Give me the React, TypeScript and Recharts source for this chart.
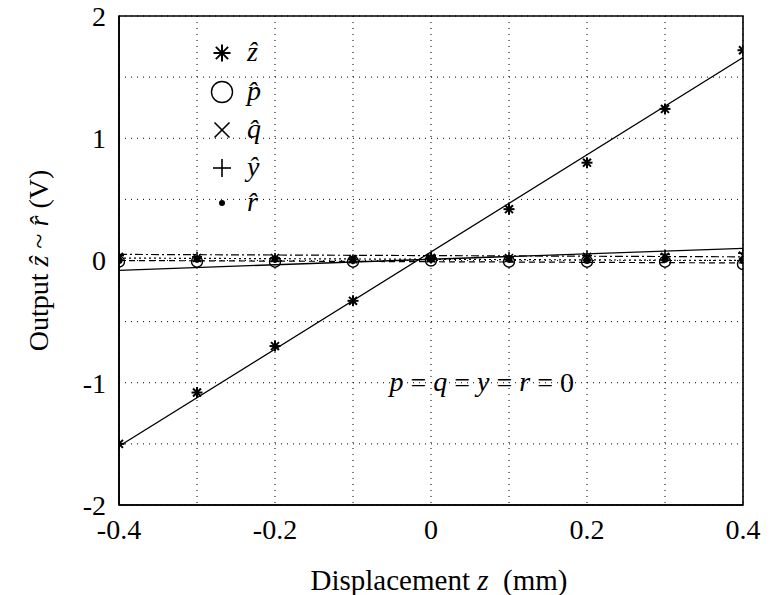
import React from 'react';
import {
  ComposedChart, Line, Scatter, XAxis, YAxis, CartesianGrid, ReferenceArea, ReferenceDot,
} from 'recharts';

const xValues = [-0.4, -0.3, -0.2, -0.1, 0, 0.1, 0.2, 0.3, 0.4];
const zHat = [-1.5, -1.08, -0.7, -0.33, 0.02, 0.42, 0.8, 1.24, 1.72];
const pHat = [-0.01, -0.01, -0.01, -0.01, 0.0, -0.01, -0.01, -0.01, -0.03];
const qHat = [0.03, 0.02, 0.02, 0.01, 0.02, 0.02, 0.03, 0.03, 0.04];
const yHat = [0.04, 0.03, 0.02, 0.01, 0.03, 0.03, 0.04, 0.05, 0.06];
const rHat = [0.0, 0.01, 0.01, 0.0, 0.01, 0.01, 0.0, 0.01, 0.0];

const fitX = [-0.4, 0.4];
const zFit = [-1.52, 1.66];
const yFit = [-0.08, 0.1];
const pFit = [0.0, -0.02];
const qFit = [0.05, 0.03];
const rFit = [0.02, 0.0];

const xTicks = [-0.4, -0.3, -0.2, -0.1, 0, 0.1, 0.2, 0.3, 0.4];
const xTickLabels = ['-0.4', '', '-0.2', '', '0', '', '0.2', '', '0.4'];
const yTicks = [-2, -1.5, -1, -0.5, 0, 0.5, 1, 1.5, 2];
const yTickLabels = ['-2', '', '-1', '', '0', '', '1', '', '2'];

const legendLabels = ['z', 'p', 'q', 'y', 'r'];

const FONT = '"Liberation Serif", "DejaVu Serif", serif';
const FS = 28;

const pts = (ys: number[]) => xValues.map((x, i) => ({ x, y: ys[i] }));
const fit = (ys: number[]) => fitX.map((x, i) => ({ x, y: ys[i] }));

const Asterisk = ({ cx, cy, s = 5 }: any) => (
  <g stroke="#000" strokeWidth={2}>
    <line x1={cx - s} y1={cy} x2={cx + s} y2={cy} />
    <line x1={cx} y1={cy - s} x2={cx} y2={cy + s} />
    <line x1={cx - s * 0.72} y1={cy - s * 0.72} x2={cx + s * 0.72} y2={cy + s * 0.72} />
    <line x1={cx - s * 0.72} y1={cy + s * 0.72} x2={cx + s * 0.72} y2={cy - s * 0.72} />
  </g>
);
const Circ = ({ cx, cy, s = 5 }: any) => (
  <circle cx={cx} cy={cy} r={s} fill="none" stroke="#000" strokeWidth={1.4} />
);
const Cross = ({ cx, cy, s = 4.5 }: any) => (
  <g stroke="#000" strokeWidth={1.6}>
    <line x1={cx - s} y1={cy - s} x2={cx + s} y2={cy + s} />
    <line x1={cx - s} y1={cy + s} x2={cx + s} y2={cy - s} />
  </g>
);
const Plus = ({ cx, cy, s = 5 }: any) => (
  <g stroke="#000" strokeWidth={1.6}>
    <line x1={cx - s} y1={cy} x2={cx + s} y2={cy} />
    <line x1={cx} y1={cy - s} x2={cx} y2={cy + s} />
  </g>
);
const Dot = ({ cx, cy, s = 3 }: any) => <circle cx={cx} cy={cy} r={s} fill="#000" />;

const LegendBox = () => {
  const rows = [
    { M: Asterisk, s: 8.5, y: 53 },
    { M: Circ, s: 10.5, y: 92 },
    { M: Cross, s: 7.5, y: 130 },
    { M: Plus, s: 9, y: 168 },
    { M: Dot, s: 3, y: 203 },
  ];
  return (
    <svg width={770} height={595} style={{ position: 'absolute', left: 0, top: 0, pointerEvents: 'none' }}>
      {rows.map((r, i) => {
        const M = r.M;
        return (
          <g key={i}>
            <M cx={222} cy={r.y} s={r.s} />
            <text x={247} y={r.y + 8} fontFamily={FONT} fontStyle="italic" fontSize={FS} fill="#000">
              {legendLabels[i] + '\u0302'}
            </text>
          </g>
        );
      })}
    </svg>
  );
};

const shapeOf = (C: any, s: number) => (props: any) => <C cx={props.cx} cy={props.cy} s={s} />;

export default function App() {
  return (
    <div style={{ position: 'absolute', left: 0, top: 0, width: 770, height: 595, background: '#fff' }}>
      <ComposedChart width={770} height={595} margin={{ top: 16, right: 27, bottom: 40, left: 59 }}>
        <CartesianGrid stroke="#000" strokeDasharray="1 5" strokeWidth={1} />
        <XAxis
          type="number"
          dataKey="x"
          domain={[-0.4, 0.4]}
          ticks={xTicks}
          tickFormatter={(v: number) => xTickLabels[xTicks.findIndex((t) => Math.abs(t - v) < 1e-9)] ?? ''}
          interval={0}
          height={50}
          tickLine={false}
          tickSize={10}
          tickMargin={4}
          axisLine={{ stroke: '#000', strokeWidth: 1.6 }}
          tick={{ fill: '#000', fontFamily: FONT, fontSize: FS }}
          allowDataOverflow
          label={(p: any) => {
            const vb = p.viewBox;
            return (
              <text x={vb.x + vb.width / 2 + 8} y={vb.y + 85} textAnchor="middle" fontFamily={FONT} fontSize={29} fill="#000">
                Displacement <tspan fontStyle="italic">z</tspan>{'\u00A0\u00A0(mm)'}
              </text>
            );
          }}
        />
        <YAxis
          type="number"
          dataKey="y"
          domain={[-2, 2]}
          ticks={yTicks}
          tickFormatter={(v: number) => yTickLabels[yTicks.findIndex((t) => Math.abs(t - v) < 1e-9)] ?? ''}
          interval={0}
          width={60}
          tickLine={false}
          tickSize={10}
          tickMargin={3}
          axisLine={{ stroke: '#000', strokeWidth: 1.6 }}
          tick={{ fill: '#000', fontFamily: FONT, fontSize: FS }}
          allowDataOverflow
          label={(p: any) => {
            const vb = p.viewBox;
            const cx = 42;
            const cy = vb.y + vb.height / 2;
            return (
              <text x={cx} y={cy} transform={`rotate(-90, ${cx}, ${cy})`} textAnchor="middle" dominantBaseline="middle" fontFamily={FONT} fontSize={FS} fill="#000">
                Output <tspan fontStyle="italic">{'z\u0302'}</tspan> ~ <tspan fontStyle="italic">{'r\u0302'}</tspan> (V)
              </text>
            );
          }}
        />
        <ReferenceArea x1={-0.4} x2={0.4} y1={-2} y2={2} fill="none" stroke="#000" strokeWidth={1.6} ifOverflow="visible" />

        <Line data={fit(zFit)} dataKey="y" stroke="#000" strokeWidth={1.3} dot={false} isAnimationActive={false} legendType="none" />
        <Line data={fit(yFit)} dataKey="y" stroke="#000" strokeWidth={1.3} dot={false} isAnimationActive={false} legendType="none" />
        <Line data={fit(pFit)} dataKey="y" stroke="#000" strokeWidth={1.2} strokeDasharray="6 4" dot={false} isAnimationActive={false} legendType="none" />
        <Line data={fit(qFit)} dataKey="y" stroke="#000" strokeWidth={1.2} strokeDasharray="8 3 2 3" dot={false} isAnimationActive={false} legendType="none" />
        <Line data={fit(rFit)} dataKey="y" stroke="#000" strokeWidth={1.2} strokeDasharray="2 3" dot={false} isAnimationActive={false} legendType="none" />

        <Scatter data={pts(pHat)} dataKey="y" shape={shapeOf(Circ, 5.5)} isAnimationActive={false} legendType="none" />
        <Scatter data={pts(qHat)} dataKey="y" shape={shapeOf(Cross, 4)} isAnimationActive={false} legendType="none" />
        <Scatter data={pts(yHat)} dataKey="y" shape={shapeOf(Plus, 5)} isAnimationActive={false} legendType="none" />
        <Scatter data={pts(rHat)} dataKey="y" shape={shapeOf(Dot, 3.5)} isAnimationActive={false} legendType="none" />
        <Scatter data={pts(zHat)} dataKey="y" shape={shapeOf(Asterisk, 5.5)} isAnimationActive={false} legendType="none" />

        <ReferenceDot
          x={0.065}
          y={-1.02}
          r={0}
          ifOverflow="visible"
          label={(p: any) => {
            const vb = p.viewBox;
            const cx = vb.x + (vb.width || 0) / 2;
            const cy = vb.y + (vb.height || 0) / 2;
            return (
              <text x={cx} y={cy} textAnchor="middle" dominantBaseline="middle" fontFamily={FONT} fontSize={FS} fill="#000">
                <tspan fontStyle="italic">p</tspan> = <tspan fontStyle="italic">q</tspan> = <tspan fontStyle="italic">y</tspan> = <tspan fontStyle="italic">r</tspan> = 0
              </text>
            );
          }}
        />
      </ComposedChart>
      <LegendBox />
    </div>
  );
}
